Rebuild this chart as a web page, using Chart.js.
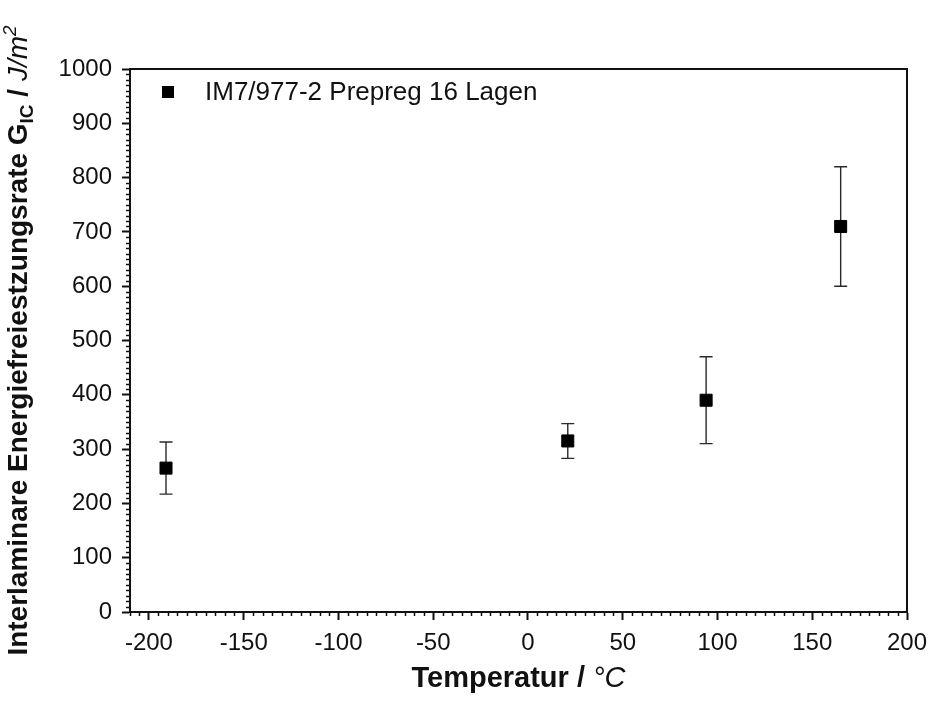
<!DOCTYPE html>
<html>
<head>
<meta charset="utf-8">
<script src="https://cdn.jsdelivr.net/npm/chart.js@4/dist/chart.umd.min.js"></script>
<style>
  html, body { margin: 0; padding: 0; background: #fff; }
  canvas { display: block; }
</style>
</head>
<body>
<canvas id="chart" width="930" height="702"></canvas>
<script>
// data
const seriesLabel = 'IM7/977-2 Prepreg 16 Lagen';
const temps = [-191, 21, 94, 165];
const gic = [265, 315, 390, 710];
const gicErr = [48, 32, 80, 110];

const xTickValues = [-200, -150, -100, -50, 0, 50, 100, 150, 200];
const yTickValues = [0, 100, 200, 300, 400, 500, 600, 700, 800, 900, 1000];
const xMinorStep = 5;
const yMinorStep = 10;

const FONT = "'Liberation Sans', Arial, sans-serif";
const INK = '#111';

const points = temps.map((t, i) => ({ x: t, y: gic[i] }));

// error bars with caps
const errorBars = {
    id: 'errorBars',
    beforeDatasetsDraw(chart) {
        const { ctx, scales: { x, y } } = chart;
        ctx.save();
        ctx.strokeStyle = '#2a2a2a';
        ctx.lineWidth = 1.4;
        temps.forEach((t, i) => {
            const px = x.getPixelForValue(t);
            const top = y.getPixelForValue(gic[i] + gicErr[i]);
            const bot = y.getPixelForValue(gic[i] - gicErr[i]);
            ctx.beginPath();
            ctx.moveTo(px, top); ctx.lineTo(px, bot);
            ctx.moveTo(px - 6.5, top); ctx.lineTo(px + 6.5, top);
            ctx.moveTo(px - 6.5, bot); ctx.lineTo(px + 6.5, bot);
            ctx.stroke();
        });
        ctx.restore();
    }
};

// frame, minor ticks, legend, axis titles
const decorations = {
    id: 'decorations',
    afterDraw(chart) {
        const { ctx, chartArea: a, scales: { x, y } } = chart;
        ctx.save();
        ctx.strokeStyle = INK;
        ctx.lineWidth = 2;
        ctx.beginPath();
        ctx.moveTo(a.left, a.top); ctx.lineTo(a.right, a.top); ctx.lineTo(a.right, a.bottom);
        ctx.stroke();

        ctx.lineWidth = 1.5;
        ctx.beginPath();
        for (let v = x.min; v <= x.max; v += xMinorStep) {
            if (v % 50 === 0) continue;
            const px = Math.round(x.getPixelForValue(v)) + 0.5;
            ctx.moveTo(px, a.bottom); ctx.lineTo(px, a.bottom + 4);
        }
        for (let v = y.min; v <= y.max; v += yMinorStep) {
            if (v % 100 === 0) continue;
            const py = Math.round(y.getPixelForValue(v)) + 0.5;
            ctx.moveTo(a.left - 4, py); ctx.lineTo(a.left, py);
        }
        ctx.stroke();

        // legend
        ctx.fillStyle = '#000';
        ctx.fillRect(162, 86, 12, 12);
        ctx.fillStyle = INK;
        ctx.font = '26px ' + FONT;
        ctx.textBaseline = 'middle';
        ctx.textAlign = 'left';
        ctx.fillText(seriesLabel, 205, 93);

        // x title
        ctx.textBaseline = 'alphabetic';
        const xParts = [
            { t: 'Temperatur / ', f: 'bold 29px ' + FONT },
            { t: '°C', f: 'italic 29px ' + FONT }
        ];
        drawParts(ctx, xParts, (a.left + a.right) / 2, 687);

        // y title (rotated)
        ctx.translate(27, (a.top + a.bottom) / 2);
        ctx.rotate(-Math.PI / 2);
        const yParts = [
            { t: 'Interlaminare Energiefreiestzungsrate G', f: 'bold 28px ' + FONT },
            { t: 'IC', f: 'bold 19px ' + FONT, dy: 6 },
            { t: ' / ', f: 'bold 28px ' + FONT },
            { t: 'J/m', f: 'italic 28px ' + FONT },
            { t: '2', f: 'italic 19px ' + FONT, dy: -11 }
        ];
        drawParts(ctx, yParts, 0, 0);
        ctx.restore();
    }
};

function drawParts(ctx, parts, cx, baseY) {
    let total = 0;
    parts.forEach(p => { ctx.font = p.f; p.w = ctx.measureText(p.t).width; total += p.w; });
    let cur = cx - total / 2;
    ctx.textAlign = 'left';
    parts.forEach(p => {
        ctx.font = p.f;
        ctx.fillText(p.t, cur, baseY + (p.dy || 0));
        cur += p.w;
    });
}

const axisCommon = {
    grid: { display: true, drawOnChartArea: false, drawTicks: true, tickLength: 8, tickWidth: 2, color: INK },
    border: { display: true, width: 2, color: INK }
};

new Chart(document.getElementById('chart'), {
    type: 'scatter',
    data: {
        datasets: [{
            label: seriesLabel,
            data: points,
            pointStyle: 'rect',
            pointRadius: 8.5,
            pointHoverRadius: 8.5,
            backgroundColor: '#000',
            borderColor: '#000',
            borderWidth: 1
        }]
    },
    options: {
        responsive: false,
        animation: false,
        devicePixelRatio: 1,
        layout: { padding: { top: 69, right: 23, left: 0, bottom: 0 } },
        plugins: { legend: { display: false }, tooltip: { enabled: false } },
        scales: {
            x: {
                ...axisCommon,
                type: 'linear',
                min: -210,
                max: 200,
                afterBuildTicks: s => { s.ticks = xTickValues.map(v => ({ value: v })); },
                afterFit: s => { s.height = 90; s.paddingLeft = 0; s.paddingRight = 0; },
                ticks: { font: { family: FONT, size: 24 }, color: INK, padding: 9, maxRotation: 0,
                         callback: v => String(v) }
            },
            y: {
                ...axisCommon,
                type: 'linear',
                min: 0,
                max: 1000,
                afterBuildTicks: s => { s.ticks = yTickValues.map(v => ({ value: v })); },
                afterFit: s => { s.width = 130; s.paddingTop = 0; s.paddingBottom = 0; },
                ticks: { font: { family: FONT, size: 24 }, color: INK, padding: 10,
                         callback: v => String(v) }
            }
        }
    },
    plugins: [errorBars, decorations]
});
</script>
</body>
</html>
